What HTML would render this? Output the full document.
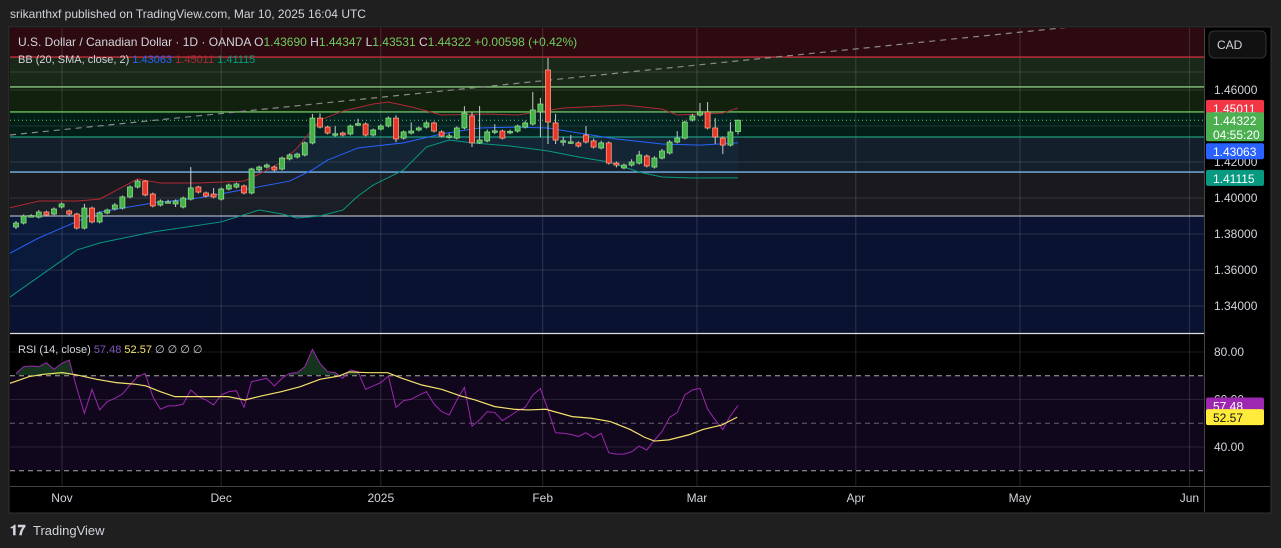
<!DOCTYPE html>
<html><head><meta charset="utf-8"><style>
html,body{margin:0;padding:0;background:#1f1f1f;width:1281px;height:548px;overflow:hidden;}
svg{display:block;font-family:"Liberation Sans",sans-serif;}
</style></head><body>
<svg id="chart" width="1281" height="548" viewBox="0 0 1281 548" xmlns="http://www.w3.org/2000/svg">
<defs>
<clipPath id="pclip"><rect x="10" y="28" width="1194" height="305"/></clipPath>
<clipPath id="rclip"><rect x="10" y="334" width="1194" height="152"/></clipPath>
<clipPath id="obclip"><rect x="10" y="334" width="1194" height="41"/></clipPath>
</defs>
<rect x="0" y="0" width="1281" height="548" fill="#1f1f1f"/>
<text x="10" y="18" fill="#d1d4dc" font-size="12">srikanthxf published on TradingView.com, Mar 10, 2025 16:04 UTC</text>
<rect x="9" y="27" width="1262" height="486" fill="#000" stroke="#333" />
<g id="zones"></g>
<g id="grid"></g>
<g id="price" clip-path="url(#pclip)"></g>
<g id="rsi"></g>
<g id="axes"></g>
<text x="18" y="46" font-size="12" fill="#d1d4dc">U.S. Dollar / Canadian Dollar · 1D · OANDA <tspan>O</tspan><tspan fill="#6ccf5f">1.43690</tspan> <tspan>H</tspan><tspan fill="#6ccf5f">1.44347</tspan> <tspan>L</tspan><tspan fill="#6ccf5f">1.43531</tspan> <tspan>C</tspan><tspan fill="#6ccf5f">1.44322</tspan> <tspan fill="#6ccf5f">+0.00598 (+0.42%)</tspan></text>
<text x="18" y="63" font-size="11" fill="#d1d4dc">BB (20, SMA, close, 2) <tspan fill="#2962ff">1.43063</tspan> <tspan fill="#b22833">1.45011</tspan> <tspan fill="#089981">1.41115</tspan></text>
<text x="18" y="353" font-size="11" fill="#d1d4dc">RSI (14, close) <tspan fill="#7e57c2">57.48</tspan> <tspan fill="#f5e26b">52.57</tspan>  ∅  ∅  ∅  ∅</text>
<rect x="1209" y="31" width="57" height="27" rx="5" fill="#111" stroke="#333"/>
<text x="1217" y="49" font-size="12" fill="#d1d4dc">CAD</text>
<g><text x="10" y="535" font-size="14" font-weight="bold" fill="#d1d4dc">𝟏𝟕</text><text x="33" y="535" font-size="13" fill="#d1d4dc">TradingView</text></g>
</svg>
<script>
const opens=[1.3839,1.3861,1.3900,1.3894,1.3922,1.3911,1.3950,1.3928,1.3911,1.3833,
1.3944,1.3867,1.3917,1.3939,1.3944,1.4006,1.4061,1.4094,1.4022,1.3961,
1.3978,1.3967,1.3950,1.3994,1.4061,1.4028,1.4022,1.3994,1.4050,1.4061,
1.4067,1.4028,1.4156,1.4172,1.4172,1.4161,1.4217,1.4228,1.4239,1.4306,
1.4444,1.4394,1.4356,1.4361,1.4356,1.4411,1.4411,1.4350,1.4383,1.4400,
1.4444,1.4333,1.4361,1.4378,1.4394,1.4417,1.4367,1.4344,1.4333,1.4389,
1.4456,1.4306,1.4317,1.4372,1.4372,1.4367,1.4372,1.4394,1.4411,1.4478,
1.4711,1.4417,1.4317,1.4311,1.4306,1.4350,1.4317,1.4278,1.4306,1.4194,
1.4167,1.4183,1.4194,1.4233,1.4172,1.4222,1.4250,1.4311,1.4333,1.4433,
1.4461,1.4478,1.4389,1.4333,1.4294,1.4369];
const closes=[1.3861,1.3900,1.3902,1.3922,1.3906,1.3939,1.3967,1.3911,1.3833,1.3944,
1.3867,1.3917,1.3933,1.3961,1.4006,1.4061,1.4094,1.4017,1.3956,1.3983,
1.3979,1.3983,1.4000,1.4056,1.4033,1.4011,1.4006,1.4050,1.4072,1.4078,
1.4028,1.4161,1.4172,1.4183,1.4156,1.4222,1.4239,1.4244,1.4306,1.4444,
1.4394,1.4361,1.4357,1.4350,1.4400,1.4413,1.4350,1.4378,1.4400,1.4444,
1.4328,1.4367,1.4372,1.4389,1.4417,1.4372,1.4344,1.4345,1.4389,1.4472,
1.4306,1.4322,1.4367,1.4373,1.4333,1.4370,1.4400,1.4417,1.4489,1.4522,
1.4422,1.4322,1.4318,1.4312,1.4289,1.4311,1.4283,1.4306,1.4194,1.4183,
1.4183,1.4200,1.4239,1.4178,1.4222,1.4261,1.4311,1.4333,1.4422,1.4456,
1.4478,1.4389,1.4339,1.4294,1.4367,1.44322];
const highs=[1.3872,1.3908,1.3910,1.3933,1.3930,1.3947,1.3975,1.3936,1.3918,1.3967,
1.3952,1.3925,1.3941,1.3972,1.4014,1.4070,1.4103,1.4100,1.4030,1.3992,
1.3990,1.3992,1.4008,1.4172,1.4068,1.4036,1.4056,1.4058,1.4080,1.4086,
1.4075,1.4168,1.4180,1.4192,1.4180,1.4230,1.4248,1.4252,1.4314,1.4467,
1.4470,1.4402,1.4400,1.4369,1.4408,1.4440,1.4420,1.4386,1.4410,1.4453,
1.4460,1.4375,1.4420,1.4397,1.4426,1.4425,1.4376,1.4360,1.4397,1.4510,
1.4478,1.4511,1.4380,1.4410,1.4380,1.4380,1.4408,1.4430,1.4589,1.4556,
1.4778,1.4467,1.4340,1.4350,1.4315,1.4400,1.4330,1.4318,1.4314,1.4203,
1.4192,1.4215,1.4262,1.4242,1.4232,1.4272,1.4322,1.4372,1.4430,1.4467,
1.4528,1.4533,1.4444,1.4342,1.4422,1.44347];
const lows=[1.3828,1.3853,1.3893,1.3886,1.3898,1.3904,1.3942,1.3903,1.3825,1.3825,
1.3859,1.3859,1.3909,1.3931,1.3936,1.3998,1.4053,1.4009,1.3948,1.3953,
1.3970,1.3950,1.3942,1.3986,1.4025,1.4003,1.3998,1.3986,1.4042,1.4053,
1.4020,1.4020,1.4148,1.4164,1.4148,1.4153,1.4209,1.4220,1.4231,1.4298,
1.4386,1.4353,1.4340,1.4342,1.4348,1.4400,1.4342,1.4342,1.4375,1.4392,
1.4310,1.4325,1.4353,1.4370,1.4386,1.4364,1.4336,1.4330,1.4325,1.4381,
1.4283,1.4300,1.4309,1.4355,1.4325,1.4355,1.4364,1.4386,1.4403,1.4339,
1.4300,1.4300,1.4290,1.4300,1.4281,1.4303,1.4275,1.4270,1.4186,1.4170,
1.4160,1.4175,1.4186,1.4170,1.4164,1.4214,1.4242,1.4303,1.4325,1.4425,
1.4453,1.4381,1.4300,1.4244,1.4286,1.43531];
const bbUpperIdx=[-1,3,8,11,16,19,24,30,32,35,37,40,43,47,49,52,56,62,66,72,80,85,87,93,95];
const bbUpper=[1.3944,1.3983,1.3983,1.3994,1.4106,1.4083,1.4083,1.4094,1.4133,1.4200,1.4278,1.4433,1.4483,1.4522,1.4533,1.4506,1.4461,1.4467,1.4461,1.4500,1.4517,1.4494,1.4461,1.4472,1.4501];
const bbMidIdx=[-1,3,6,11,18,24,29,36,39,41,45,51,56,61,66,70,74,79,85,90,95];
const bbMid=[1.3689,1.3778,1.3833,1.3922,1.3972,1.4000,1.4039,1.4094,1.4156,1.4211,1.4278,1.4306,1.4356,1.4389,1.4394,1.4389,1.4361,1.4328,1.4300,1.4294,1.4306];
const bbLowerIdx=[-1,8,11,18,27,32,35,37,40,43,45,47,51,54,57,60,65,70,74,78,82,85,89,95];
const bbLower=[1.3444,1.3711,1.3750,1.3811,1.3867,1.3933,1.3911,1.3889,1.3900,1.3933,1.4011,1.4072,1.4156,1.4283,1.4322,1.4306,1.4289,1.4261,1.4228,1.4200,1.4144,1.4117,1.4111,1.4112];
const rsiValues=[71.0,73.8,74.1,73.8,75.5,72.7,75.2,76.6,64.7,54.2,64.3,55.6,59.1,60.5,62.3,66.1,69.6,71.0,61.2,55.9,57.3,57.3,58.1,64.0,61.2,59.8,57.7,61.9,63.3,63.7,56.7,67.5,68.2,68.9,65.7,68.9,71.0,71.3,73.8,81.1,75.2,71.7,71.3,68.9,72.4,71.7,64.3,65.7,67.1,69.9,56.7,59.5,60.1,61.8,63.3,58.1,54.9,53.5,59.8,65.1,48.8,51.4,54.9,54.5,51.1,53.1,55.3,56.7,61.9,64.6,55.6,46.0,45.8,45.3,44.4,46.0,43.9,45.8,37.6,37.0,37.0,38.0,40.4,38.7,42.9,46.5,52.5,54.5,61.9,64.0,64.7,56.0,51.4,47.4,53.1,57.48];
const rsiMaIdx=[-0.8,1.7,3.6,6.1,8.1,10.6,13.2,15.8,17.1,19,20.9,23.4,25.3,27.9,30.1,32.3,34.9,37.4,40,42.5,43.8,46.4,48.9,50.8,53.4,56,58.5,60.4,63,65.5,67.4,69.7,73.2,75.7,78.2,80.8,82.7,84,85.9,88.5,90.4,92.9,94.9];
const rsiMa=[66.8,69.6,70.6,71.3,70.3,68.5,67.1,66.4,65.7,63.3,61.2,61.2,61.2,61.2,59.8,61.5,63.3,65.4,68.5,69.9,71.6,71.3,71.3,68.9,66.1,64.3,61.5,59.8,57.0,55.9,55.6,55.9,52.8,52.1,50.7,47.4,44.1,42.5,43.0,45.1,47.4,49.3,52.57];
const priceTicks=[1.46,1.42,1.40,1.38,1.36,1.34];
const priceTickLabels=["1.46000","1.42000","1.40000","1.38000","1.36000","1.34000"];
const rsiTicks=[80,60,40];
const rsiTickLabels=["80.00","60.00","40.00"];
const monthLabels=["Nov","Dec","2025","Feb","Mar","Apr","May","Jun"];
const monthBarIdx=[6.05,27,48,69.3,89.6,110.5,132.1,154.4];
const zoneLevels=[1.4783,1.4617,1.4478,1.4339,1.4144,1.3900];

const NS="http://www.w3.org/2000/svg";
function X(i){return 16+i*7.6;}
function Y(p){return 198-(p-1.40)*1800;}
function RY(v){return 352+(80-v)*2.375;}
function mk(tag,attrs,parent){const e=document.createElementNS(NS,tag);for(const k in attrs)e.setAttribute(k,attrs[k]);parent.appendChild(e);return e;}
const zones=document.getElementById('zones'),grid=document.getElementById('grid'),price=document.getElementById('price'),rsi=document.getElementById('rsi'),axes=document.getElementById('axes');

const zb=[[28,Y(zoneLevels[0]),'#2c0a10'],[Y(zoneLevels[0]),Y(zoneLevels[1]),'#1a2819'],[Y(zoneLevels[1]),Y(zoneLevels[2]),'#12200e'],[Y(zoneLevels[2]),Y(zoneLevels[3]),'#031d17'],[Y(zoneLevels[3]),Y(zoneLevels[4]),'#13202c'],[Y(zoneLevels[4]),Y(zoneLevels[5]),'#1a191d'],[Y(zoneLevels[5]),333,'#091331']];
zb.forEach(z=>{const r=mk('rect',{x:10,y:z[0],width:1194,height:z[1]-z[0],fill:z[2]},zones);

});
mk('rect',{x:10,y:RY(70),width:1194,height:RY(30)-RY(70),fill:'#11071d'},zones);
priceTicks.forEach(p=>{mk('line',{x1:10,x2:1204,y1:Y(p),y2:Y(p),stroke:'#ffffff',"stroke-opacity":0.12},grid);});
[1.44,1.47].forEach(p=>{mk('line',{x1:10,x2:1204,y1:Y(p),y2:Y(p),stroke:'#ffffff',"stroke-opacity":0.12},grid);});
[80,60,40].forEach(v=>{mk('line',{x1:10,x2:1204,y1:RY(v),y2:RY(v),stroke:'#ffffff',"stroke-opacity":0.1},grid);});
monthBarIdx.forEach(i=>{mk('line',{x1:X(i),x2:X(i),y1:28,y2:486,stroke:'#ffffff',"stroke-opacity":0.14},grid);});
const zc=['#c4303c','#8ac97f','#6cbf5c','#1f9a7a','#7eb6e8','#b0b0c0'];
zoneLevels.forEach((p,k)=>{const l=mk('line',{x1:10,x2:1204,y1:Y(p),y2:Y(p),stroke:zc[k],"stroke-width":1.3},price);

});
mk('line',{x1:10,x2:1204,y1:Y(closes[closes.length-1]),y2:Y(closes[closes.length-1]),stroke:'#6ccf5f',"stroke-dasharray":"1 3"},price);
const tl=mk('line',{x1:10,y1:135,x2:1120,y2:22,stroke:'#8a8a8a',"stroke-width":1.2,"stroke-dasharray":"6 5"},price);


function pts(idx,vals,fy){return idx.map((i,k)=>X(i)+','+fy(vals[k])).join(' ');}
const fillPts=pts(bbUpperIdx,bbUpper,Y)+' '+bbLowerIdx.slice().reverse().map((i,k)=>X(i)+','+Y(bbLower[bbLower.length-1-k])).join(' ');
mk('polygon',{points:fillPts,fill:'#2196f3',"fill-opacity":0.05},price);
const up=mk('polyline',{points:pts(bbUpperIdx,bbUpper,Y),fill:'none',stroke:'#b22833',"stroke-width":1},price);


const md=mk('polyline',{points:pts(bbMidIdx,bbMid,Y),fill:'none',stroke:'#2962ff',"stroke-width":1},price);


const lw=mk('polyline',{points:pts(bbLowerIdx,bbLower,Y),fill:'none',stroke:'#089981',"stroke-width":1},price);


opens.forEach((o,i)=>{const c=closes[i],x=X(i),g=c>=o;
const w=mk('line',{x1:x,x2:x,y1:Y(highs[i]),y2:Y(lows[i]),stroke:'#c8ccd4',"stroke-width":1},price);


const t=Math.min(Y(o),Y(c)),h=Math.max(1.5,Math.abs(Y(o)-Y(c)));
const b=mk('rect',{x:x-2.5,y:t,width:5,height:h,fill:g?'#43b04a':'#e8362b',stroke:g?'#8fdc86':'#ff9f80',"stroke-width":0.8},price);

});
mk('line',{x1:10,x2:1204,y1:333.5,y2:333.5,stroke:'#e0e0e0',"stroke-width":1.2},axes);
mk('line',{x1:1204.5,x2:1204.5,y1:28,y2:512,stroke:'#444'},axes);
mk('line',{x1:10,x2:1270,y1:486.5,y2:486.5,stroke:'#444'},axes);
const rg=document.createElementNS(NS,'g');rg.setAttribute('clip-path','url(#rclip)');rsi.appendChild(rg);
[70,50,30].forEach(v=>{mk('line',{x1:10,x2:1204,y1:RY(v),y2:RY(v),stroke:'#bbbbbb',"stroke-dasharray":"5 4","stroke-opacity":v==50?0.5:0.9},rg);});
const off=opens.length-rsiValues.length;
const rp=rsiValues.map((v,k)=>X(k+off)+','+RY(v)).join(' ');
const og=document.createElementNS(NS,'g');og.setAttribute('clip-path','url(#obclip)');rg.appendChild(og);
mk('polygon',{points:X(off)+','+RY(70)+' '+rp+' '+X(opens.length-1)+','+RY(70),fill:'#1e4a2a',"fill-opacity":0.7},og);
const rl=mk('polyline',{points:rp,fill:'none',stroke:'#9c27b0',"stroke-width":1},rg);


const ml=mk('polyline',{points:pts(rsiMaIdx,rsiMa,RY),fill:'none',stroke:'#f5e26b',"stroke-width":1.2},rg);


function txt(s,x,y,fill,size,parent,anchor){const t=mk('text',{x:x,y:y,fill:fill,"font-size":size||12},parent||axes);if(anchor)t.setAttribute('text-anchor',anchor);t.textContent=s;return t;}
priceTicks.forEach((p,k)=>{const t=txt(priceTickLabels[k],1214,Y(p)+4,'#d1d4dc');

});
rsiTicks.forEach((v,k)=>{const t=txt(rsiTickLabels[k],1214,RY(v)+4,'#d1d4dc');

});
monthLabels.forEach((m,k)=>{const t=txt(m,X(monthBarIdx[k]),502,'#d1d4dc',12,axes,'middle');

});
function badge(label,y,h,bg,fg,name,sub){const r=mk('rect',{x:1206,y:y,width:58,height:h,rx:2,fill:bg},axes);


txt(label,1213,y+13,fg);if(sub)txt(sub,1213,y+27,fg);return y+h;}
badge('1.45011',Y(bbUpper[bbUpper.length-1])-8,16,'#f23645','#fff','bb-upper-badge');
const gEnd=badge(closes[closes.length-1].toFixed(5),Y(closes[closes.length-1])-8,29,'#4caf50','#fff','last-price-badge','04:55:20');
badge('1.43063',Math.max(gEnd+2,Y(bbMid[bbMid.length-1])-8),16,'#2962ff','#fff','bb-basis-badge');
badge('1.41115',Y(bbLower[bbLower.length-1])-8,16,'#089981','#fff','bb-lower-badge');
badge(rsiValues[rsiValues.length-1].toFixed(2),RY(rsiValues[rsiValues.length-1])-8,16,'#9c27b0','#fff','rsi-badge');
badge(rsiMa[rsiMa.length-1].toFixed(2),RY(rsiMa[rsiMa.length-1])-8,16,'#ffeb3b','#111','rsi-ma-badge');
</script>
</body></html>
